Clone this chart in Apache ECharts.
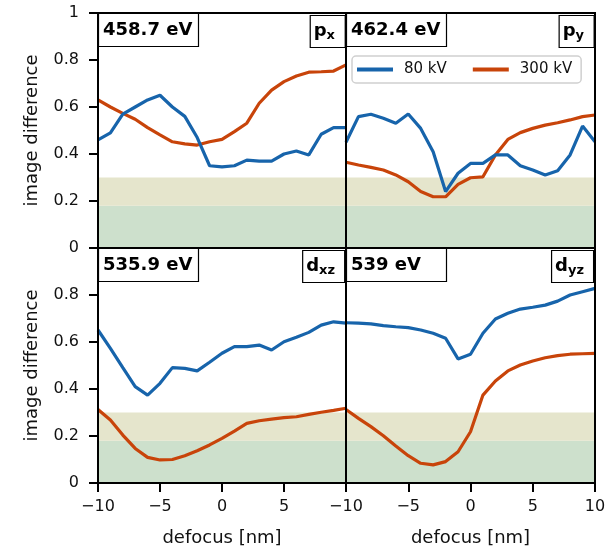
<!DOCTYPE html>
<html>
<head>
<meta charset="utf-8">
<script src="https://cdn.jsdelivr.net/npm/echarts@6/dist/echarts.min.js"></script>
<style>
html, body {margin: 0; padding: 0; background: #fff;}
#main {width: 614px; height: 549px;}
</style>
</head>
<body>
<div id="main"></div>
<script>
// 数据
var defocus = [-10, -9, -8, -7, -6, -5, -4, -3, -2, -1, 0, 1, 2, 3, 4, 5, 6, 7, 8, 9, 10];
var bands = [0, 0.18, 0.3];

var px80 = [0.46, 0.49, 0.57, 0.60, 0.63, 0.65, 0.60, 0.56, 0.47, 0.35, 0.345, 0.35, 0.374, 0.37, 0.37, 0.40, 0.413, 0.396, 0.484, 0.512, 0.512];
var px300 = [0.63, 0.60, 0.573, 0.548, 0.512, 0.481, 0.452, 0.443, 0.438, 0.452, 0.462, 0.495, 0.531, 0.616, 0.672, 0.708, 0.732, 0.748, 0.750, 0.753, 0.779];
var py80 = [0.45, 0.559, 0.569, 0.552, 0.531, 0.570, 0.509, 0.41, 0.24, 0.318, 0.36, 0.36, 0.396, 0.396, 0.35, 0.332, 0.311, 0.329, 0.396, 0.519, 0.452];
var py300 = [0.365, 0.353, 0.343, 0.332, 0.311, 0.282, 0.24, 0.218, 0.218, 0.271, 0.299, 0.303, 0.396, 0.462, 0.491, 0.509, 0.523, 0.533, 0.545, 0.559, 0.566];
var dxz80 = [0.651, 0.573, 0.491, 0.41, 0.374, 0.424, 0.491, 0.488, 0.477, 0.514, 0.552, 0.58, 0.58, 0.587, 0.566, 0.601, 0.62, 0.641, 0.672, 0.686, 0.68];
var dxz300 = [0.313, 0.268, 0.204, 0.147, 0.109, 0.098, 0.10, 0.116, 0.137, 0.162, 0.19, 0.221, 0.254, 0.265, 0.272, 0.278, 0.282, 0.292, 0.301, 0.309, 0.318];
var dyz80 = [0.682, 0.68, 0.677, 0.67, 0.665, 0.661, 0.651, 0.637, 0.616, 0.528, 0.548, 0.637, 0.698, 0.722, 0.74, 0.748, 0.757, 0.774, 0.80, 0.814, 0.828];
var dyz300 = [0.313, 0.275, 0.24, 0.201, 0.157, 0.116, 0.084, 0.077, 0.091, 0.133, 0.218, 0.374, 0.434, 0.477, 0.502, 0.519, 0.533, 0.542, 0.548, 0.55, 0.552];

var energies = ['458.7 eV', '462.4 eV', '535.9 eV', '539 eV'];
var orbitals = [['p', 'x'], ['p', 'y'], ['d', 'xz'], ['d', 'yz']];
var panels = [[px80, px300], [py80, py300], [dxz80, dxz300], [dyz80, dyz300]];

var blue = '#1764ab';
var orange = '#c8440a';
var font = 'DejaVu Sans';

function pairs(ys) {
    return defocus.map(function (x, i) { return [x, ys[i]]; });
}
function minus(v) {
    return String(v).replace('-', '\u2212');
}

var grids = [
    {left: 98, top: 13, width: 248, height: 235},
    {left: 346, top: 13, width: 249, height: 235},
    {left: 98, top: 248, width: 248, height: 235},
    {left: 346, top: 248, width: 249, height: 235}
];

var option = {
    animation: false,
    textStyle: {fontFamily: font},
    grid: grids.map(function (g) {
        return Object.assign({show: true, z: 8, borderColor: '#000', borderWidth: 2, backgroundColor: 'transparent'}, g);
    }),
    xAxis: [],
    yAxis: [],
    series: [],
    title: [],
    legend: {
        data: ['80 kV', '300 kV'],
        icon: 'rect',
        left: 352, top: 56,
        itemWidth: 36, itemHeight: 4, itemGap: 26,
        padding: [6, 9, 6, 5],
        backgroundColor: '#fff',
        borderColor: '#d0d0d0', borderWidth: 1.5, borderRadius: 4,
        textStyle: {fontSize: 15, color: '#111', fontFamily: font, padding: [0, 0, 0, 6]}
    }
};

for (var i = 0; i < 4; i++) {
    var bottom = i >= 2;
    var left = i % 2 === 0;
    option.xAxis.push({
        type: 'value', gridIndex: i, min: -10, max: 10, interval: 5,
        z: 10,
        splitLine: {show: false},
        axisLine: {show: bottom, onZero: false, lineStyle: {color: '#000', width: 2}},
        axisTick: {show: bottom, length: 9, lineStyle: {color: '#000', width: 2}},
        axisLabel: {show: bottom, fontSize: 16, color: '#111', margin: 16,
            showMaxLabel: i === 3, formatter: minus},
        name: bottom ? 'defocus [nm]' : '',
        nameLocation: 'middle', nameGap: 46,
        nameTextStyle: {fontSize: 18, color: '#111'}
    });
    option.yAxis.push({
        type: 'value', gridIndex: i, min: 0, max: 1, interval: 0.2,
        z: 10,
        splitLine: {show: false},
        axisLine: {show: left, onZero: false, lineStyle: {color: '#000', width: 2}},
        axisTick: {show: left, length: 9, lineStyle: {color: '#000', width: 2}},
        axisLabel: {show: left, fontSize: 16, color: '#111', margin: 19,
            showMaxLabel: i === 0},
        name: left ? 'image difference' : '',
        nameLocation: 'middle', nameGap: 57, nameRotate: 90,
        nameTextStyle: {fontSize: 18, color: '#111'}
    });

    /*数据线*/
    option.series.push({
        name: '80 kV', type: 'line', xAxisIndex: i, yAxisIndex: i,
        data: pairs(panels[i][0]), showSymbol: false, symbol: 'none',
        lineStyle: {color: blue, width: 3.2}, itemStyle: {color: blue},
        z: 4,
        markArea: {
            silent: true,
            data: [
                [{yAxis: bands[0], itemStyle: {color: '#cde0cc'}}, {yAxis: bands[1]}],
                [{yAxis: bands[1], itemStyle: {color: '#e5e5cc'}}, {yAxis: bands[2]}]
            ]
        }
    });
    option.series.push({
        name: '300 kV', type: 'line', xAxisIndex: i, yAxisIndex: i,
        data: pairs(panels[i][1]), showSymbol: false, symbol: 'none',
        lineStyle: {color: orange, width: 3.2}, itemStyle: {color: orange},
        z: 3
    });

    /*标签框*/
    var g = grids[i];
    option.title.push({
        text: energies[i],
        left: g.left, top: g.top,
        padding: [7, 5, 6, 5],
        backgroundColor: '#fff', borderColor: '#000', borderWidth: 1.2,
        textStyle: {fontSize: 18, fontWeight: 'bold', color: '#000', fontFamily: font, width: 91, lineHeight: 21}
    });
    option.title.push({
        text: '{b|' + orbitals[i][0] + '}{s|' + orbitals[i][1] + '}',
        right: 614 - (g.left + g.width) + 1, top: g.top,
        padding: [7, 10, 6, 4],
        backgroundColor: '#fff', borderColor: '#000', borderWidth: 1.2,
        textStyle: {
            fontFamily: font,
            rich: {
                b: {fontSize: 18, fontWeight: 'bold', color: '#000', fontFamily: font, lineHeight: 23},
                s: {fontSize: 13, fontWeight: 'bold', color: '#000', fontFamily: font, padding: [8, 0, 0, 0]}
            }
        }
    });
}

var myChart = echarts.init(document.getElementById('main'));
myChart.setOption(option);
</script>
</body>
</html>
